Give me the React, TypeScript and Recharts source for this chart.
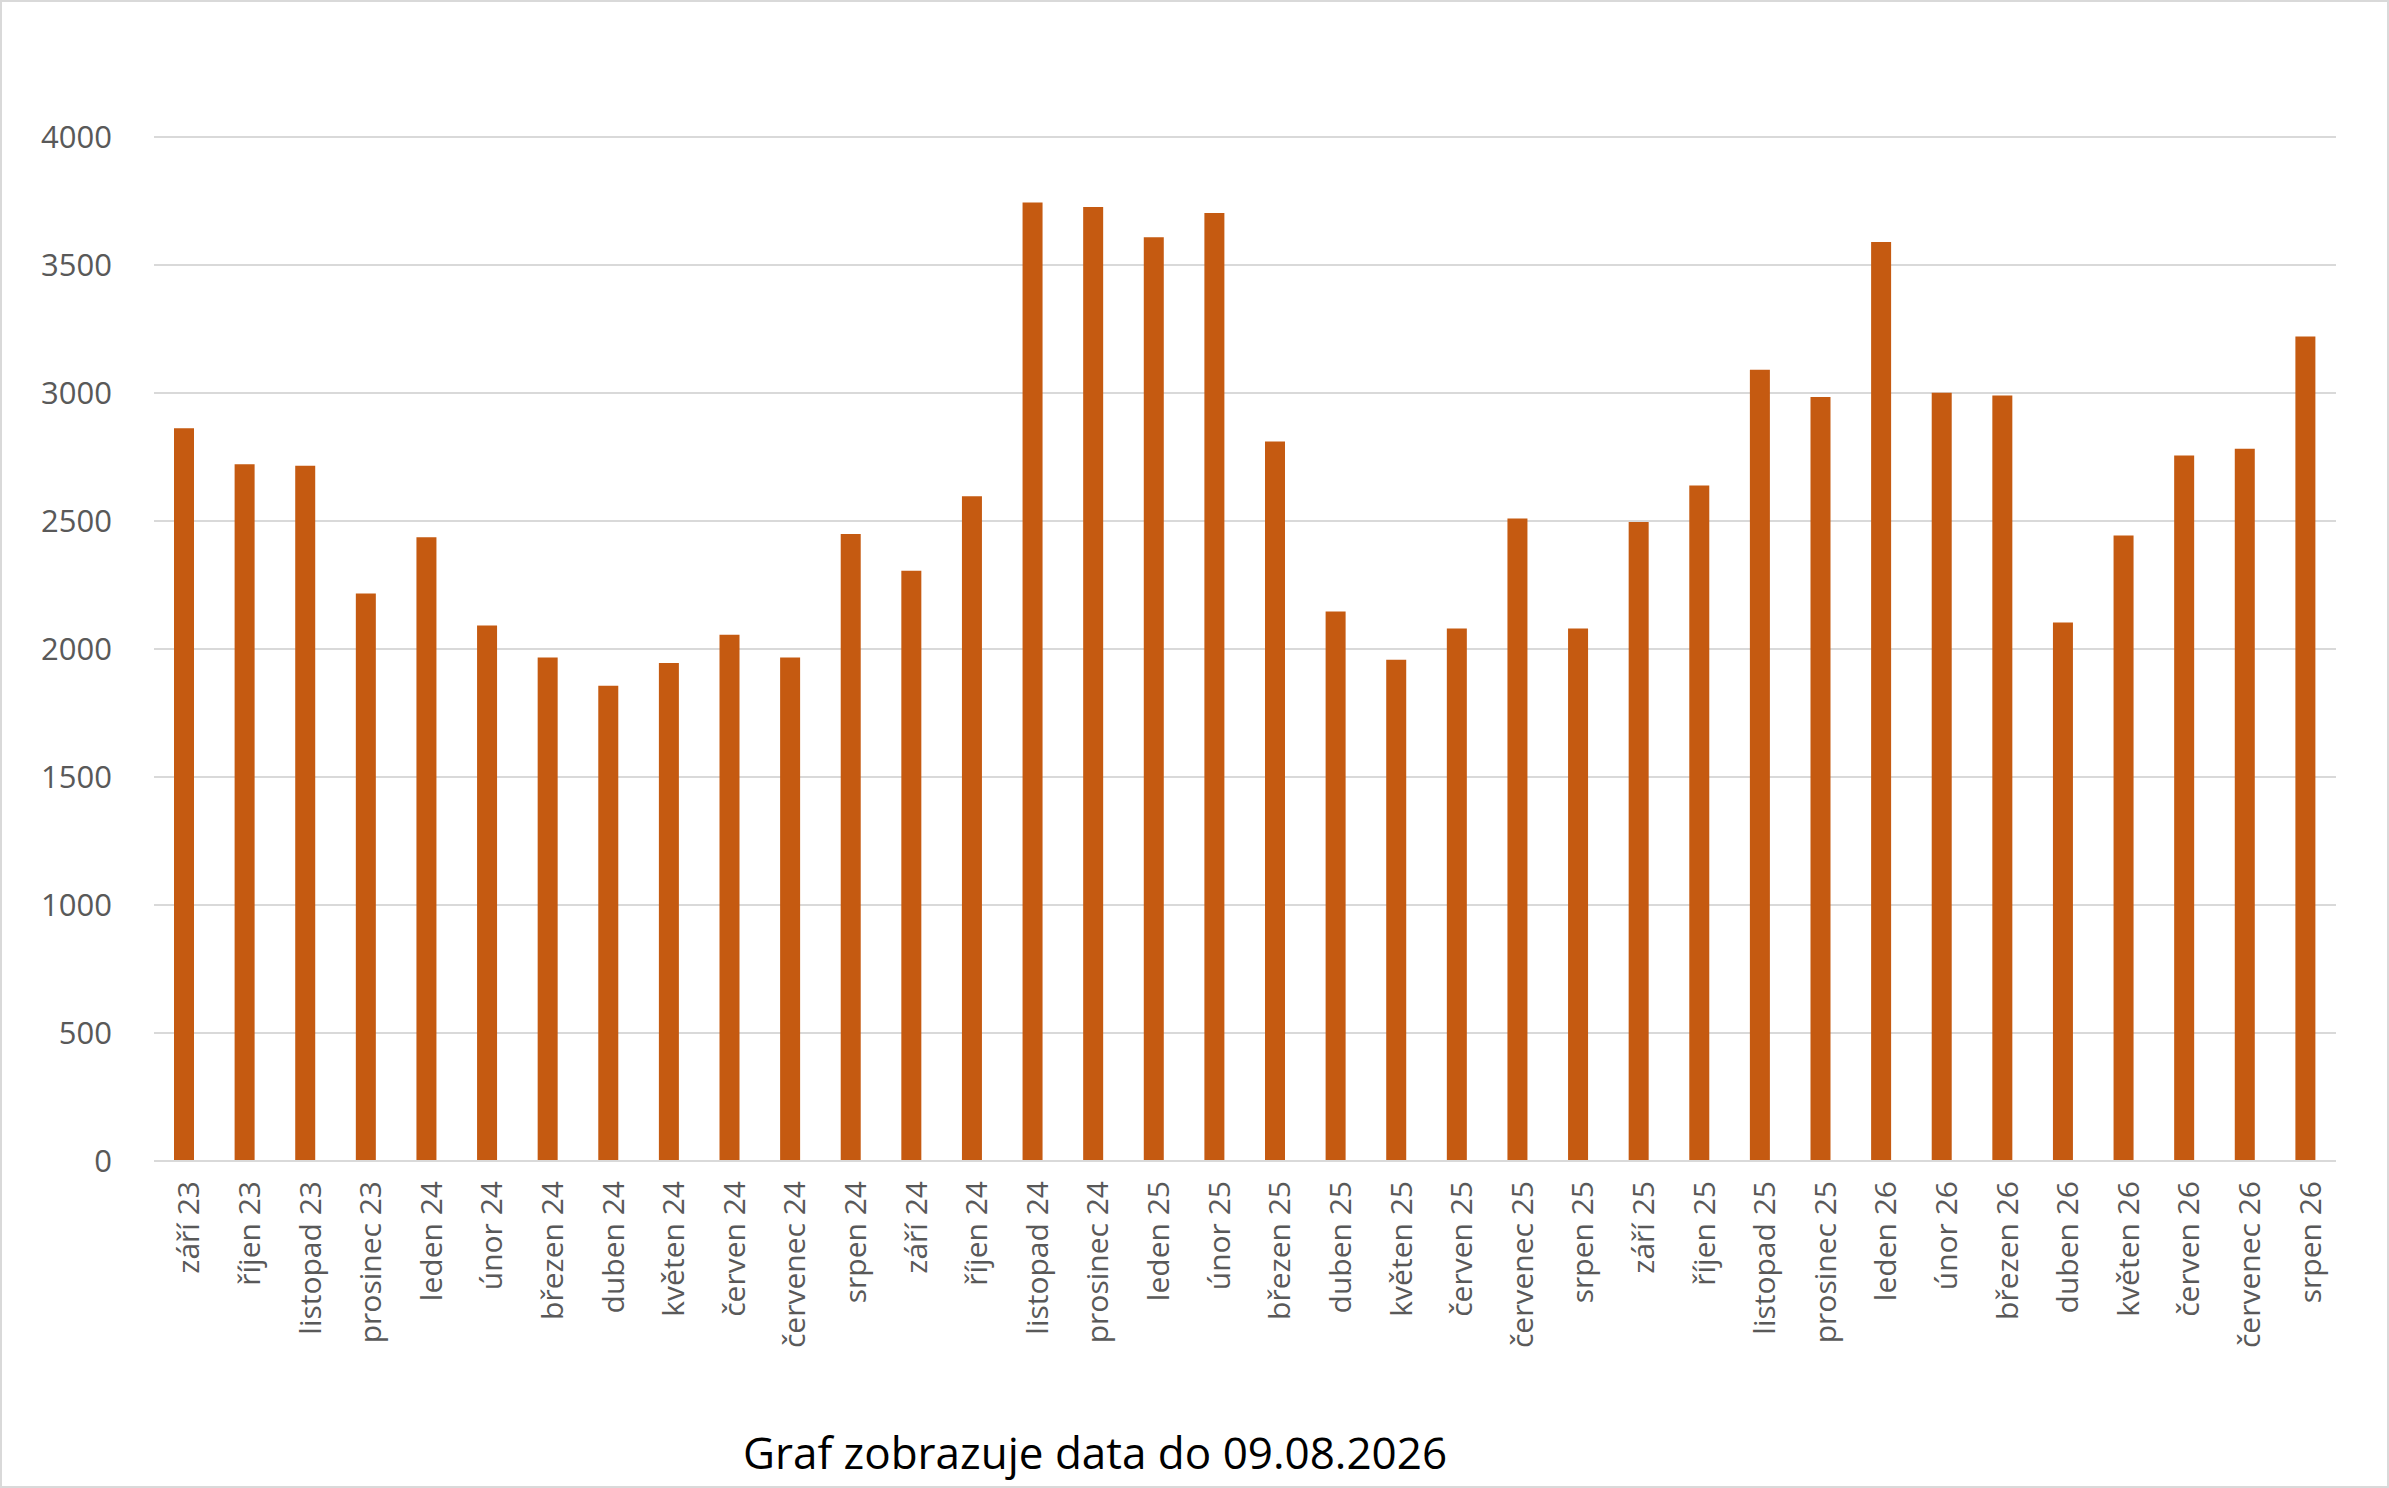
import { BarChart, Bar, XAxis, YAxis, CartesianGrid } from "recharts";

const months = [
  "září 23", "říjen 23", "listopad 23", "prosinec 23", "leden 24", "únor 24",
  "březen 24", "duben 24", "květen 24", "červen 24", "červenec 24", "srpen 24",
  "září 24", "říjen 24", "listopad 24", "prosinec 24", "leden 25", "únor 25",
  "březen 25", "duben 25", "květen 25", "červen 25", "červenec 25", "srpen 25",
  "září 25", "říjen 25", "listopad 25", "prosinec 25", "leden 26", "únor 26",
  "březen 26", "duben 26", "květen 26", "červen 26", "červenec 26", "srpen 26",
];

const counts = [
  2862, 2722, 2716, 2217, 2437, 2092, 1967, 1856, 1945, 2056, 1967, 2449,
  2306, 2597, 3744, 3727, 3608, 3703, 2811, 2146, 1958, 2080, 2510, 2080,
  2496, 2639, 3091, 2984, 3590, 3001, 2990, 2104, 2443, 2756, 2782, 3221,
];

const yTicks = [0, 500, 1000, 1500, 2000, 2500, 3000, 3500, 4000];

const data = months.map((m, i) => ({ month: m, value: counts[i] }));

const font = "'Open Sans', sans-serif";

function MonthTick({ x, y, payload }: any) {
  return (
    <text
      transform={`rotate(-90 ${x} ${y + 12})`}
      textAnchor="end"
      dominantBaseline="central"
      fill="#595959"
      fontSize={30}
      fontFamily={font}
    >
      <tspan x={x} y={y + 12} dy="0.1em">{payload.value}</tspan>
    </text>
  );
}

export default function App() {
  return (
    <div
      style={{
        position: "absolute",
        left: 0,
        top: 0,
        width: 2389,
        height: 1488,
        background: "#fff",
        boxSizing: "border-box",
        border: "2px solid #d9d9d9",
      }}
    >
      <BarChart
        width={2385}
        height={1484}
        data={data}
        margin={{ top: 135, right: 51, bottom: 95, left: 0 }}
        barCategoryGap="33%"
      >
        <CartesianGrid vertical={false} stroke="#d9d9d9" strokeWidth={2} />
        <XAxis
          dataKey="month"
          interval={0}
          tick={<MonthTick />}
          tickLine={false}
          axisLine={{ stroke: "#d9d9d9", strokeWidth: 2 }}
          height={230}
        />
        <YAxis
          ticks={yTicks}
          domain={[0, 4000]}
          width={152}
          tickLine={false}
          axisLine={false}
          tickMargin={36}
          tick={{ fontSize: 31, fill: "#595959", fontFamily: font }}
        />
        <Bar dataKey="value" fill="#C55A11" barSize={20} isAnimationActive={false} />
      </BarChart>
      <div
        style={{
          position: "absolute",
          left: 0,
          width: 2186,
          top: 1420,
          textAlign: "center",
          fontFamily: font,
          fontSize: 44,
          color: "#000",
        }}
      >
        Graf zobrazuje data do 09.08.2026
      </div>
    </div>
  );
}
